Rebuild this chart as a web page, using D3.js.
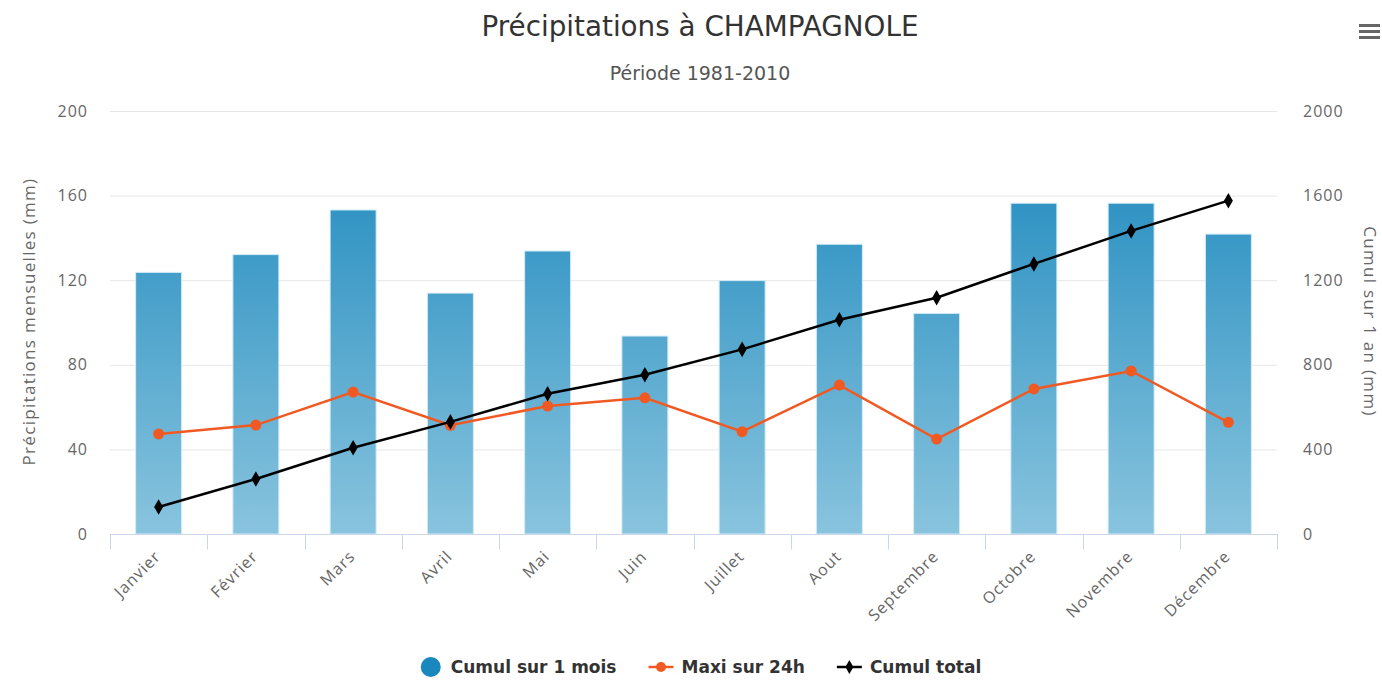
<!DOCTYPE html>
<html lang="fr">
<head>
<meta charset="utf-8">
<script src="https://cdn.jsdelivr.net/npm/d3@7"></script>
<style>
  html, body { margin: 0; padding: 0; background: #fff; }
  svg { display: block; }
</style>
</head>
<body>
<svg id="chart" width="1382" height="681"></svg>
<script>
// Monthly precipitation normals, Champagnole 1981-2010
const months = ["Janvier", "Février", "Mars", "Avril", "Mai", "Juin",
                "Juillet", "Aout", "Septembre", "Octobre", "Novembre", "Décembre"];
const cumulMois = [123.7, 132.1, 153.2, 113.9, 133.8, 93.6, 119.8, 137.0, 104.3, 156.4, 156.4, 141.8];
const maxi24h   = [47.3, 51.5, 67.1, 51.4, 60.5, 64.4, 48.4, 70.4, 44.9, 68.6, 77.1, 52.8];
const cumulTotal = [128, 260, 408, 530, 663, 753, 873, 1013, 1117, 1277, 1433, 1576];
const leftTicks  = [0, 40, 80, 120, 160, 200];
const rightTicks = [0, 400, 800, 1200, 1600, 2000];
const seriesNames = ["Cumul sur 1 mois", "Maxi sur 24h", "Cumul total"];

const svg = d3.select("#chart");
const plot = { left: 110, right: 1277, top: 111, bottom: 534 };

const x = d3.scaleBand().domain(months).range([plot.left, plot.right]).paddingInner(0).paddingOuter(0);
const yL = d3.scaleLinear().domain([0, 200]).range([plot.bottom, plot.top]);
const yR = d3.scaleLinear().domain([0, 2000]).range([plot.bottom, plot.top]);

const labelFont = "'Open Sans', 'DejaVu Sans', sans-serif";
const titleFont = "'DejaVu Sans', sans-serif";
const labelColor = "#666";

// Bar gradient spans the whole plot height
const defs = svg.append("defs");
const grad = defs.append("linearGradient")
  .attr("id", "barGrad").attr("gradientUnits", "userSpaceOnUse")
  .attr("x1", 0).attr("x2", 0).attr("y1", plot.top).attr("y2", plot.bottom);
grad.append("stop").attr("offset", 0).attr("stop-color", "#1886bc");
grad.append("stop").attr("offset", 1).attr("stop-color", "#89c4de");

// Title and subtitle
svg.append("text").attr("x", 700).attr("y", 36)
  .attr("text-anchor", "middle").attr("font-family", titleFont)
  .attr("font-size", 27.8).attr("fill", "#333")
  .text("Précipitations à CHAMPAGNOLE");
svg.append("text").attr("x", 700).attr("y", 80)
  .attr("text-anchor", "middle").attr("font-family", titleFont)
  .attr("font-size", 19).attr("fill", "#555")
  .text("Période 1981-2010");

// Context menu icon
const menu = svg.append("g").attr("transform", "translate(1359,24)");
[0, 6, 12].forEach(dy => menu.append("rect")
  .attr("x", 0).attr("y", dy).attr("width", 21).attr("height", 3).attr("fill", "#666"));

// Grid lines
svg.append("g").selectAll("line").data(leftTicks.filter(d => d > 0)).join("line")
  .attr("x1", plot.left).attr("x2", plot.right)
  .attr("y1", d => yL(d) + 0.5).attr("y2", d => yL(d) + 0.5)
  .attr("stroke", "#e6e6e6").attr("stroke-width", 1);

const styleTicks = g => g.selectAll("text")
  .attr("font-family", labelFont).attr("font-size", 16).attr("letter-spacing", 1)
  .attr("fill", labelColor);

// Left axis labels
const leftAxis = d3.axisLeft(yL).tickValues(leftTicks).tickSize(0).tickPadding(22).tickFormat(d3.format("d"));
svg.append("g").attr("transform", `translate(${plot.left},0)`).call(leftAxis)
  .call(g => g.select(".domain").remove())
  .call(styleTicks);

// Right axis labels
const rightAxis = d3.axisRight(yR).tickValues(rightTicks).tickSize(0).tickPadding(26).tickFormat(d3.format("d"));
svg.append("g").attr("transform", `translate(${plot.right},0)`).call(rightAxis)
  .call(g => g.select(".domain").remove())
  .call(styleTicks);

// Axis titles
svg.append("text").attr("transform", `translate(35,${(plot.top + plot.bottom) / 2 - 1}) rotate(-90)`)
  .attr("text-anchor", "middle").attr("font-family", labelFont).attr("font-size", 17)
  .attr("letter-spacing", 1.3).attr("fill", labelColor)
  .text("Précipitations mensuelles (mm)");
svg.append("text").attr("transform", `translate(1364,${(plot.top + plot.bottom) / 2 - 1}) rotate(90)`)
  .attr("text-anchor", "middle").attr("font-family", labelFont).attr("font-size", 17)
  .attr("letter-spacing", 1.3).attr("fill", labelColor)
  .text("Cumul sur 1 an (mm)");

// Bars
const barW = 46;
svg.append("g").selectAll("rect").data(months).join("rect")
  .attr("x", d => x(d) + x.bandwidth() / 2 - barW / 2)
  .attr("width", barW)
  .attr("y", (d, i) => yL(cumulMois[i]))
  .attr("height", (d, i) => yL(0) - yL(cumulMois[i]))
  .attr("fill", "url(#barGrad)")
  .attr("stroke", "#d4ecf6").attr("stroke-width", 1);

// X axis line and ticks
const xAxisG = svg.append("g").attr("transform", `translate(0,${plot.bottom + 0.5})`);
xAxisG.append("line").attr("x1", plot.left).attr("x2", plot.right + 1)
  .attr("stroke", "#ccd6eb").attr("stroke-width", 1);
const boundaries = months.map(m => x(m)).concat([plot.right]);
xAxisG.selectAll("line.tick").data(boundaries).join("line").attr("class", "tick")
  .attr("x1", d => Math.round(d) + 0.5).attr("x2", d => Math.round(d) + 0.5)
  .attr("y1", 0).attr("y2", 15).attr("stroke", "#ccd6eb").attr("stroke-width", 1);
xAxisG.selectAll("text").data(months).join("text")
  .attr("transform", d => `translate(${x(d) + x.bandwidth() / 2 + 3},${23}) rotate(-45)`)
  .attr("text-anchor", "end").attr("font-family", labelFont).attr("font-size", 16)
  .attr("letter-spacing", 1).attr("fill", labelColor)
  .text(d => d);

// Maxi sur 24h line (left scale)
const cx = (d, i) => x(months[i]) + x.bandwidth() / 2;
const orange = "#f05a22";
svg.append("path").datum(maxi24h)
  .attr("d", d3.line().x(cx).y(d => yL(d)))
  .attr("fill", "none").attr("stroke", orange).attr("stroke-width", 2.5);
svg.append("g").selectAll("circle").data(maxi24h).join("circle")
  .attr("cx", cx).attr("cy", d => yL(d)).attr("r", 5.5).attr("fill", orange);

// Cumul total line (right scale)
svg.append("path").datum(cumulTotal)
  .attr("d", d3.line().x(cx).y(d => yR(d)))
  .attr("fill", "none").attr("stroke", "#000").attr("stroke-width", 2.5);
const diamond = d3.symbol().type(d3.symbolDiamond).size(70);
svg.append("g").selectAll("path").data(cumulTotal).join("path")
  .attr("transform", (d, i) => `translate(${cx(d, i)},${yR(d)})`)
  .attr("d", diamond).attr("fill", "#000");

// Legend
const legend = svg.append("g");
const legendY = 667;
const items = [
  { name: seriesNames[0], type: "bar" },
  { name: seriesNames[1], type: "orange" },
  { name: seriesNames[2], type: "black" }
];
let lx = 0;
items.forEach(it => {
  const g = legend.append("g").attr("transform", `translate(${lx},0)`);
  let symW;
  if (it.type === "bar") {
    g.append("circle").attr("cx", 10).attr("cy", 0).attr("r", 10).attr("fill", "#1a87bd");
    symW = 30;
  } else {
    const c = it.type === "orange" ? orange : "#000";
    g.append("line").attr("x1", 0).attr("x2", 25).attr("y1", 0).attr("y2", 0)
      .attr("stroke", c).attr("stroke-width", 2.5);
    if (it.type === "orange") g.append("circle").attr("cx", 12.5).attr("cy", 0).attr("r", 5).attr("fill", c);
    else g.append("path").attr("transform", "translate(12.5,0)").attr("d", d3.symbol().type(d3.symbolDiamond).size(55)).attr("fill", c);
    symW = 33;
  }
  const t = g.append("text").attr("x", symW).attr("y", 6)
    .attr("font-family", titleFont).attr("font-weight", "bold").attr("font-size", 17).attr("fill", "#333")
    .text(it.name);
  const w = symW + t.node().getComputedTextLength();
  lx += w + 32;
});
const totalW = lx - 32;
legend.attr("transform", `translate(${701 - totalW / 2},${legendY})`);
</script>
</body>
</html>
